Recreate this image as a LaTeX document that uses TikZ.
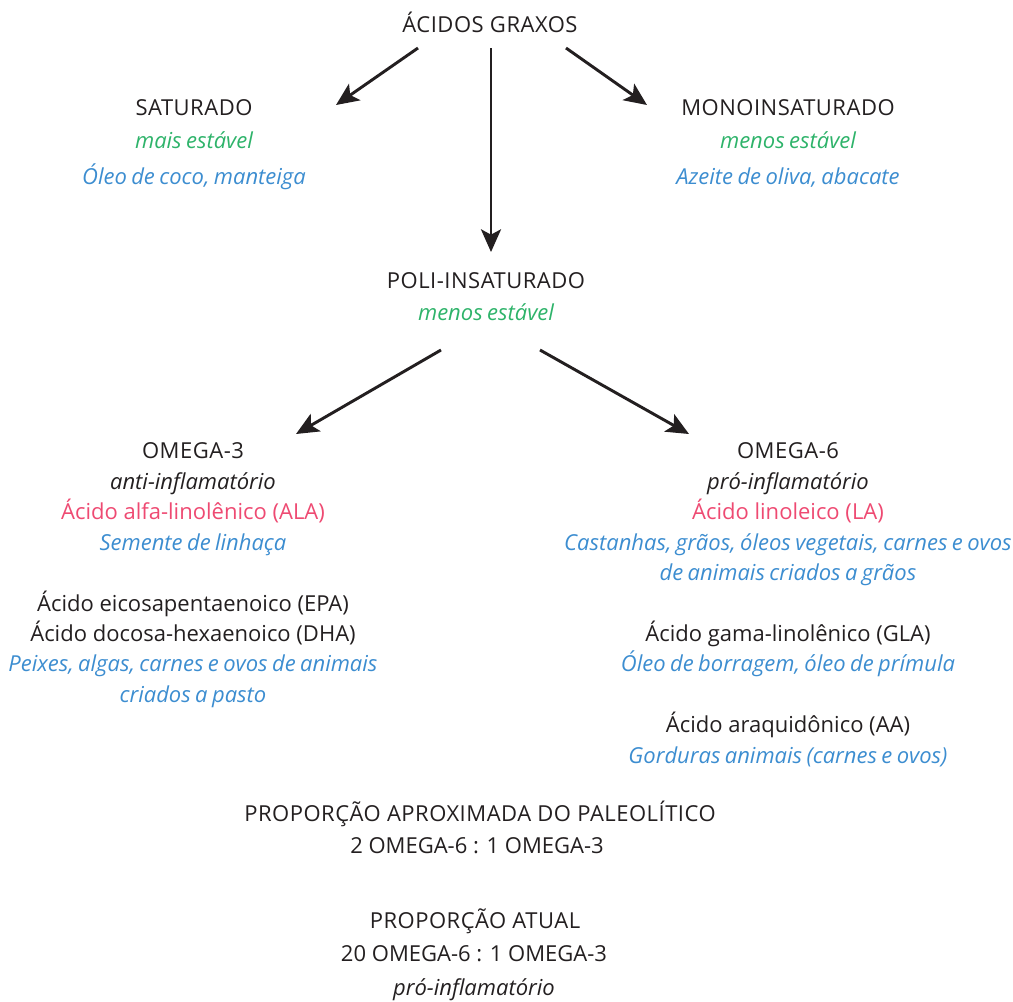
\documentclass[tikz,border=0pt]{standalone}
\usepackage{fontspec}
\setmainfont{Open Sans}
\usetikzlibrary{arrows.meta}
\definecolor{inkdark}{HTML}{231F20}
\definecolor{stablegreen}{HTML}{2EB36A}
\definecolor{sourceblue}{HTML}{3C8DD0}
\definecolor{acidpink}{HTML}{EE4A72}
% slightly tighter word spacing for the italic lines
\newcommand\tightwords{\spaceskip 0.2em\relax}
\tikzset{
  txt/.style={inner sep=0pt, anchor=base, font=\fontsize{16.5}{20}\selectfont, text=inkdark},
  head/.style={txt, font=\fontsize{16.5}{20}\selectfont\addfontfeature{LetterSpace=2.3}},
  note/.style={txt, font=\fontsize{16.5}{20}\selectfont\itshape\tightwords, text=inkdark},
  stab/.style={note, text=stablegreen},
  src/.style={note, text=sourceblue},
  acid/.style={txt, text=acidpink},
  flow/.style={draw=inkdark, line width=2.2pt, -{Stealth[length=17pt, width=15pt, inset=4pt]}},
}
\begin{document}
\begin{tikzpicture}[x=0.75pt, y=-0.75pt]
\useasboundingbox (0,0) rectangle (1013,1001);

% root
\node[head] (root) at (490,32) {ÁCIDOS GRAXOS};

% saturated branch
\node[head] (sat) at (194,115) {SATURADO};
\node[stab] (satstab) at (194,148) {mais estável};
\node[src] (satsrc) at (194,184) {Óleo de coco, manteiga};

% monounsaturated branch
\node[head] (mono) at (788,115) {MONOINSATURADO};
\node[stab] (monostab) at (788,148) {menos estável};
\node[src] (monosrc) at (788,184) {Azeite de oliva, abacate};

% polyunsaturated branch
\node[head] (poly) at (486,288) {POLI-INSATURADO};
\node[stab] (polystab) at (486,320) {menos estável};

% omega-3 column
\node[head] (om3) at (193,458) {OMEGA-3};
\node[note] (om3eff) at (193,489) {anti-inflamatório};
\node[acid] (ala) at (193,519) {Ácido alfa-linolênico (ALA)};
\node[src] (alasrc) at (193,550) {Semente de linhaça};
\node[txt] (epa) at (193,611) {Ácido eicosapentaenoico (EPA)};
\node[txt] (dha) at (193,641) {Ácido docosa-hexaenoico (DHA)};
\node[src] (dhasrc1) at (193,671) {Peixes, algas, carnes e ovos de animais};
\node[src] (dhasrc2) at (193,702) {criados a pasto};

% omega-6 column
\node[head] (om6) at (788,458) {OMEGA-6};
\node[note] (om6eff) at (788,489) {pró-inflamatório};
\node[acid] (la) at (788,519) {Ácido linoleico (LA)};
\node[src] (lasrc1) at (788,550) {Castanhas, grãos, óleos vegetais, carnes e ovos};
\node[src] (lasrc2) at (788,580) {de animais criados a grãos};
\node[txt] (gla) at (788,641) {Ácido gama-linolênico (GLA)};
\node[src] (glasrc) at (788,671) {Óleo de borragem, óleo de prímula};
\node[txt] (aa) at (788,732) {Ácido araquidônico (AA)};
\node[src] (aasrc) at (788,763) {Gorduras animais (carnes e ovos)};

% ratios
\node[head] (paleo) at (480,821) {PROPORÇÃO APROXIMADA DO PALEOLÍTICO};
\node[txt] (paleoratio) at (477,853) {2 OMEGA-6 : 1 OMEGA-3};
\node[head] (today) at (475,928) {PROPORÇÃO ATUAL};
\node[txt] (todayratio) at (474,961) {20 OMEGA-6 : 1 OMEGA-3};
\node[note] (todayeff) at (474,995) {pró-inflamatório};

% connector end points
\coordinate (rootL) at (418,48);
\coordinate (rootM) at (491,48);
\coordinate (rootR) at (566,48);
\coordinate (satIn) at (336,105);
\coordinate (polyIn) at (491,252);
\coordinate (monoIn) at (647,105);
\coordinate (polyL) at (441,350);
\coordinate (polyR) at (540,350);
\coordinate (om3In) at (296,434);
\coordinate (om6In) at (689,434);

\draw[flow] (rootL) -- (satIn);
\draw[flow] (rootM) -- (polyIn);
\draw[flow] (rootR) -- (monoIn);
\draw[flow] (polyL) -- (om3In);
\draw[flow] (polyR) -- (om6In);
\end{tikzpicture}
\end{document}
